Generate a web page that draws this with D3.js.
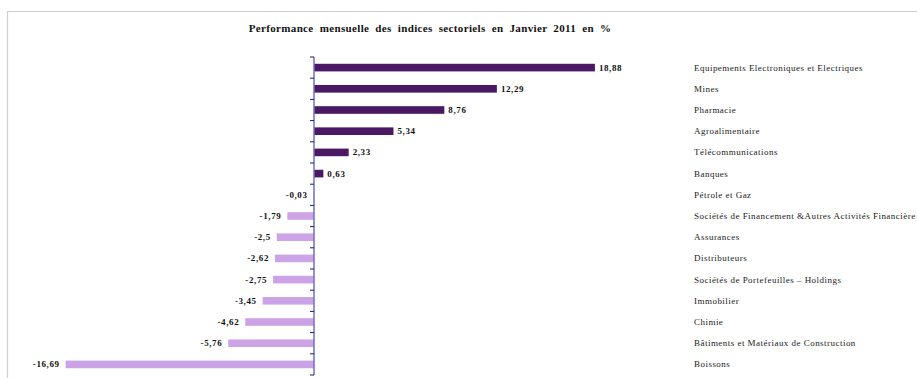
<!DOCTYPE html>
<html><head><meta charset="utf-8">
<script src="https://cdn.jsdelivr.net/npm/d3@7"></script>
<style>body{margin:0;background:#fff}svg{display:block}</style>
</head><body>
<svg id="c" width="917" height="378"></svg>
<script>
const categories = ["Equipements Electroniques et Electriques","Mines","Pharmacie","Agroalimentaire","Télécommunications","Banques","Pétrole et Gaz","Sociétés de Financement &Autres Activités Financière","Assurances","Distributeurs","Sociétés de Portefeuilles – Holdings","Immobilier","Chimie","Bâtiments et Matériaux de Construction","Boissons"];
const values = [18.88,12.29,8.76,5.34,2.33,0.63,-0.03,-1.79,-2.5,-2.62,-2.75,-3.45,-4.62,-5.76,-16.69];
const valueLabels = ["18,88","12,29","8,76","5,34","2,33","0,63","-0,03","-1,79","-2,5","-2,62","-2,75","-3,45","-4,62","-5,76","-16,69"];
const title = "Performance mensuelle des indices sectoriels en Janvier 2011 en %";

const svg = d3.select("#c");
const serif = "'Liberation Serif','Times New Roman',serif";

// frame
svg.append("path").attr("d","M7.5,378 V11.5 H917").attr("fill","none").attr("stroke","#cfcfcf").attr("stroke-width",1.2);

svg.append("text").attr("x",430).attr("y",32).attr("text-anchor","middle")
  .attr("font-family",serif).attr("font-weight","bold").attr("font-size",11)
  .attr("letter-spacing",0.35).attr("word-spacing",3).attr("fill","#111").text(title);

const x = d3.scaleLinear().domain([-20,25]).range([314-20*14.88, 314+25*14.88]);
const y = d3.scaleBand().domain(categories).range([57,375]).paddingInner(0.64).paddingOuter(0.32);

const data = categories.map((c,i)=>({c, v:values[i], l:valueLabels[i]}));

svg.selectAll("rect.bar").data(data).join("rect").attr("class","bar")
  .attr("x",d=>x(Math.min(0,d.v))).attr("y",d=>y(d.c))
  .attr("width",d=>Math.abs(x(d.v)-x(0))).attr("height",y.bandwidth())
  .attr("fill",d=>d.v>=0?"#4b1964":"#cda3e7");

// axis
const x0 = x(0);
svg.append("line").attr("x1",x0).attr("x2",x0).attr("y1",57).attr("y2",375)
  .attr("stroke","#6f6fc4").attr("stroke-width",1.5);
const bounds = d3.range(categories.length+1).map(i=>57+i*y.step());
svg.selectAll("line.tick").data(bounds).join("line").attr("class","tick")
  .attr("x1",x0-4).attr("x2",x0).attr("y1",d=>d).attr("y2",d=>d)
  .attr("stroke","#1c1c5c").attr("stroke-width",1);

// value labels
svg.selectAll("text.val").data(data).join("text").attr("class","val")
  .attr("x",d=>d.v>=0?x(d.v)+4:x(d.v)-6)
  .attr("y",d=>y(d.c)+y.bandwidth()/2+3)
  .attr("text-anchor",d=>d.v>=0?"start":"end")
  .attr("font-family",serif).attr("font-weight","bold").attr("font-size",9)
  .attr("letter-spacing",0.6).attr("fill","#111").text(d=>d.l);

// category labels
svg.selectAll("text.cat").data(data).join("text").attr("class","cat")
  .attr("x",694).attr("y",d=>y(d.c)+y.bandwidth()/2+3)
  .attr("font-family",serif).attr("font-size",9).attr("letter-spacing",0.47)
  .attr("fill","#222").text(d=>d.c);
</script>
</body></html>
